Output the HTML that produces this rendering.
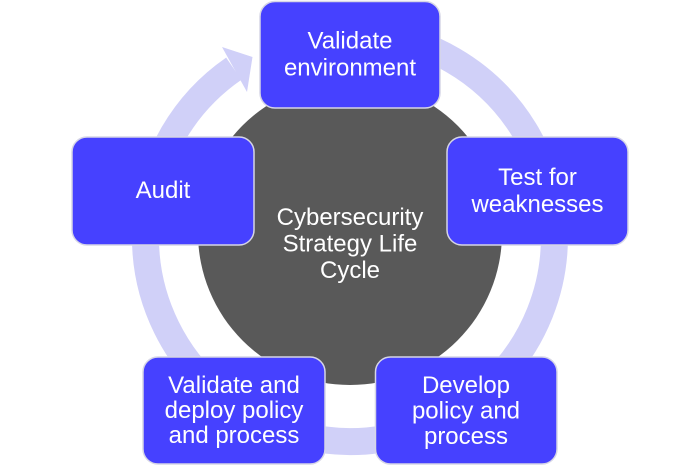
<!DOCTYPE html>
<html>
<head>
<meta charset="utf-8">
<style>
  html, body { margin: 0; padding: 0; background: #ffffff; }
  body { width: 700px; height: 466px; overflow: hidden; }
  svg { display: block; }
  text { font-family: "Liberation Sans", Arial, sans-serif; fill: #ffffff; font-size: 24px; text-anchor: middle; }
</style>
</head>
<body>
<svg width="700" height="466" viewBox="0 0 700 466" xmlns="http://www.w3.org/2000/svg">
  <!-- ring arc -->
  <path d="M 367.8 33.3 A 204.5 204.5 0 1 1 233.8 68.7" fill="none" stroke="#d0d0f8" stroke-width="27"/>
  <!-- arrowhead -->
  <polygon points="222,47 252.5,57 247,92" fill="#d0d0f8"/>
  <!-- central circle -->
  <circle cx="350" cy="233" r="152" fill="#595959"/>
  <text x="350" y="225">Cybersecurity</text>
  <text x="350" y="251.5">Strategy Life</text>
  <text x="350" y="278">Cycle</text>

  <!-- boxes -->
  <g fill="#4641ff" stroke="#d6d6e6" stroke-width="1.5">
    <rect x="260" y="1.5" width="180" height="106.5" rx="15" ry="15"/>
    <rect x="72" y="137" width="182" height="108" rx="15" ry="15"/>
    <rect x="447" y="137" width="181" height="108" rx="15" ry="15"/>
    <rect x="143" y="357" width="182" height="107" rx="15" ry="15"/>
    <rect x="375.5" y="357" width="181.5" height="107" rx="15" ry="15"/>
  </g>

  <text x="350" y="48.5">Validate</text>
  <text x="350" y="75.5">environment</text>

  <text x="163" y="198">Audit</text>

  <text x="537.5" y="185">Test for</text>
  <text x="537.5" y="212">weaknesses</text>

  <text x="234" y="393">Validate and</text>
  <text x="234" y="418">deploy policy</text>
  <text x="234" y="443">and process</text>

  <text x="466" y="393">Develop</text>
  <text x="466" y="418.5">policy and</text>
  <text x="466" y="444">process</text>
</svg>
</body>
</html>
